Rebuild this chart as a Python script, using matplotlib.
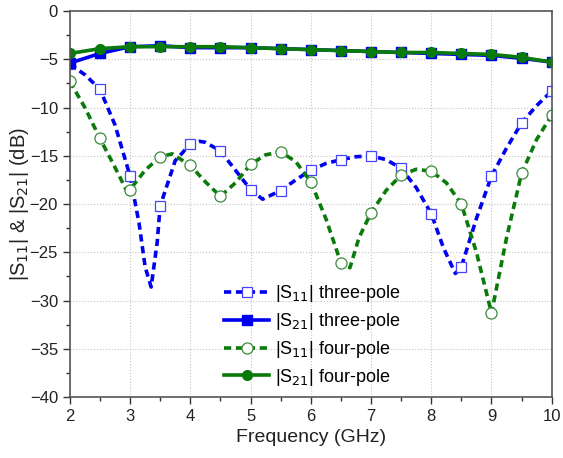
import numpy as np
import matplotlib
matplotlib.use('Agg')
import matplotlib.pyplot as plt
from matplotlib.ticker import MultipleLocator

plt.rcParams['font.family'] = ['Liberation Sans', 'DejaVu Sans']

# |S21| (markers every 0.5 GHz)
f_s21 = [2.0, 2.5, 3.0, 3.5, 4.0, 4.5, 5.0, 5.5, 6.0, 6.5, 7.0, 7.5, 8.0, 8.5, 9.0, 9.5, 10.0]
s21_three = [-5.4, -4.4, -3.7, -3.6, -3.8, -3.8, -3.8, -3.9, -4.0, -4.1, -4.2, -4.3, -4.4, -4.5, -4.6, -4.9, -5.3]
s21_four = [-4.4, -3.9, -3.7, -3.7, -3.7, -3.7, -3.8, -3.9, -4.0, -4.1, -4.2, -4.3, -4.3, -4.4, -4.5, -4.8, -5.3]

# |S11| three-pole
f_s11_three = [2.0, 2.25, 2.5, 2.75, 3.0, 3.15, 3.25, 3.35, 3.45, 3.5, 3.75, 4.0, 4.15, 4.25,
               4.5, 4.75, 5.0, 5.2, 5.5, 5.75, 6.0, 6.25, 6.5, 6.75, 7.0, 7.25, 7.5, 7.75,
               8.0, 8.2, 8.4, 8.5, 8.75, 9.0, 9.25, 9.5, 9.75, 10.0]
s11_three = [-5.5, -6.6, -8.1, -11.8, -17.1, -22.0, -26.5, -28.6, -24.0, -20.2, -15.5, -13.8, -13.5, -13.6,
             -14.5, -16.5, -18.5, -19.5, -18.6, -17.5, -16.5, -15.8, -15.4, -15.1, -15.0, -15.4, -16.3, -18.3,
             -21.0, -24.5, -27.2, -26.5, -21.5, -17.1, -14.2, -11.6, -9.8, -8.3]

# |S11| four-pole
f_s11_four = [2.0, 2.25, 2.5, 2.75, 2.95, 3.0, 3.25, 3.5, 3.7, 4.0, 4.25, 4.5, 4.75, 5.0, 5.25,
              5.5, 5.75, 6.0, 6.25, 6.5, 6.65, 6.8, 7.0, 7.25, 7.5, 7.75, 8.0, 8.25, 8.5,
              8.75, 9.0, 9.25, 9.5, 9.75, 10.0]
s11_four = [-7.3, -10.0, -13.2, -16.2, -18.7, -18.5, -16.5, -15.1, -14.8, -16.0, -17.7, -19.2, -17.8, -15.9, -14.9,
            -14.6, -15.6, -17.7, -21.5, -26.1, -26.6, -23.5, -20.9, -18.6, -17.0, -16.4, -16.6, -17.8, -20.0,
            -25.0, -31.3, -23.5, -16.8, -13.3, -10.8]

blue = '#0000ee'
green = '#0a7a0a'


def half_mask(f):
    f = np.asarray(f)
    return list(np.isclose(f * 2, np.round(f * 2)))


fig = plt.figure(figsize=(5.63, 4.58), dpi=100)
ax = fig.add_axes([0.124, 0.133, 0.856, 0.843])

ax.plot(f_s11_three, s11_three, ls=(0, (2, 1.3)), lw=2.6, color=blue,
        marker='s', ms=7, mfc='white', mec='#4444ff', mew=0.9,
        markevery=half_mask(f_s11_three), label='|S$_{11}$| three-pole')
ax.plot(f_s21, s21_three, ls='-', lw=2.6, color=blue,
        marker='s', ms=7, mfc=blue, mec=blue, label='|S$_{21}$| three-pole')
ax.plot(f_s11_four, s11_four, ls=(0, (2, 1.3)), lw=2.6, color=green,
        marker='o', ms=8, mfc='white', mec='#3a8a3a', mew=0.9,
        markevery=half_mask(f_s11_four), label='|S$_{11}$| four-pole')
ax.plot(f_s21, s21_four, ls='-', lw=2.6, color=green,
        marker='o', ms=7, mfc=green, mec=green, label='|S$_{21}$| four-pole')

ax.set_xlim(2, 10)
ax.set_ylim(-40, 0)
ax.xaxis.set_major_locator(MultipleLocator(1))
ax.xaxis.set_minor_locator(MultipleLocator(0.5))
ax.yaxis.set_major_locator(MultipleLocator(5))
ax.yaxis.set_minor_locator(MultipleLocator(2.5))
ax.tick_params(which='major', direction='out', length=5, width=1, labelsize=12, colors='#333333')
ax.tick_params(which='minor', direction='out', length=3, width=1, colors='#333333')
ax.tick_params(labelcolor='#222222')
ax.grid(which='major', ls=':', color='#c4c4c4', lw=0.8)
for s in ax.spines.values():
    s.set_color('#555555')
    s.set_linewidth(1.2)

ax.set_xlabel('Frequency (GHz)', fontsize=14, color='#222222', labelpad=4)
ax.set_ylabel('|S$_{11}$| & |S$_{21}$| (dB)', fontsize=14.5, color='#222222', labelpad=-1)

ax.legend(loc='upper left', bbox_to_anchor=(0.32, 0.295), frameon=False, fontsize=13,
          borderaxespad=0, borderpad=0, handlelength=2.5, handletextpad=0.3,
          labelspacing=0.38)

fig.savefig('out.png', dpi=100)
